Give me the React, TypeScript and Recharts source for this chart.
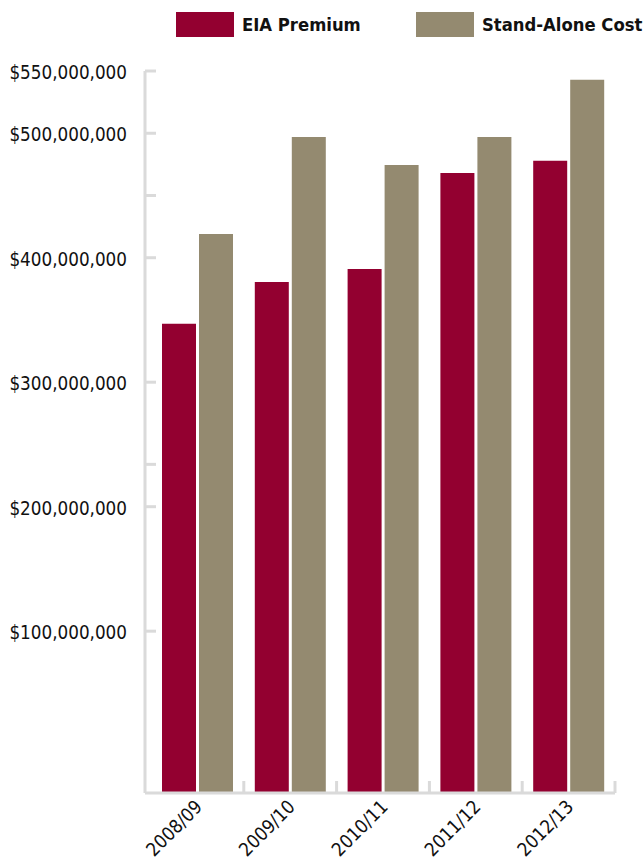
import React from 'react';
import { BarChart, Bar, XAxis, YAxis } from 'recharts';

const YEARS = ['2008/09', '2009/10', '2010/11', '2011/12', '2012/13'];
const EIA_PREMIUM = [347000000, 380500000, 391000000, 468000000, 478000000];
const STAND_ALONE = [419000000, 497000000, 474500000, 497000000, 543000000];

// labelled ticks plus the two bare tick marks the original axis has
const Y_TICKS = [550000000, 500000000, 450000000, 400000000, 300000000, 234000000, 200000000, 100000000];
const Y_LABELS = [550000000, 500000000, 400000000, 300000000, 200000000, 100000000];
const Y_MIN = -30000000;
const Y_MAX = 550000000;

const SERIES = [
  { key: 'eia', name: 'EIA Premium', color: '#930030' },
  { key: 'standAlone', name: 'Stand-Alone Cost', color: '#948a70' },
];

const data = YEARS.map((year, i) => ({ year, eia: EIA_PREMIUM[i], standAlone: STAND_ALONE[i] }));

const FONT = '"DejaVu Sans Condensed", "DejaVu Sans", sans-serif';
const GRID = '#dadada';
const BAND = 464 / YEARS.length;

const fmt = (v: number) => '$' + v.toLocaleString('en-US');

const YTick = (props: any) => {
  const { x, y, payload } = props;
  const labelled = Y_LABELS.includes(payload.value);
  return (
    <g>
      <line x1={x} x2={x + 11} y1={y} y2={y} stroke={GRID} strokeWidth={3} />
      {labelled && (
        <text x={x - 18} y={y} dy={8} textAnchor="end" fontSize={18.7} fill="#111" fontFamily={FONT}>
          {fmt(payload.value)}
        </text>
      )}
    </g>
  );
};

const XTick = (props: any) => {
  const { x, y, payload } = props;
  const bx = x + BAND / 2;
  return (
    <g>
      <line x1={bx} x2={bx} y1={y} y2={y - 12} stroke={GRID} strokeWidth={3} />
      <text
        x={x + 6}
        y={y + 15}
        textAnchor="end"
        fontSize={18.7}
        fill="#111"
        fontFamily={FONT}
        transform={`rotate(-45 ${x + 6} ${y + 15})`}
      >
        {payload.value}
      </text>
    </g>
  );
};

const LegendRow = () => (
  <div style={{ position: 'absolute', left: 0, top: 0, width: 643, height: 50, fontFamily: FONT }}>
    {SERIES.map((s, i) => (
      <React.Fragment key={s.key}>
        <div style={{ position: 'absolute', left: 176 + i * 240, top: 12, width: 58, height: 25, background: s.color }} />
        <div
          style={{
            position: 'absolute',
            left: 242 + i * 240,
            top: 13,
            fontSize: 18.3,
            fontWeight: 'bold',
            lineHeight: '24px',
            color: '#111',
            whiteSpace: 'nowrap',
          }}
        >
          {s.name}
        </div>
      </React.Fragment>
    ))}
  </div>
);

export default function App() {
  return (
    <div style={{ position: 'absolute', left: 0, top: 0, width: 643, height: 858, background: '#fff', overflow: 'hidden' }}>
      <LegendRow />
      <BarChart
        width={643}
        height={858}
        data={data}
        margin={{ top: 71, right: 28, left: 0, bottom: 0 }}
        barSize={34}
        barGap={3}
        style={{ position: 'absolute', left: 0, top: 0 }}
      >
        <XAxis
          dataKey="year"
          height={65}
          padding={{ left: 6, right: 0 }}
          tickSize={0}
          tickMargin={0}
          interval={0}
          axisLine={{ stroke: GRID, strokeWidth: 3 }}
          tick={<XTick />}
        />
        <YAxis
          type="number"
          width={145}
          domain={[Y_MIN, Y_MAX]}
          ticks={Y_TICKS}
          interval={0}
          tickSize={0}
          tickMargin={0}
          axisLine={{ stroke: GRID, strokeWidth: 3 }}
          tick={<YTick />}
        />
        {SERIES.map((s) => (
          <Bar
            key={s.key}
            dataKey={(d: any) => [Y_MIN, d[s.key]]}
            name={s.name}
            fill={s.color}
            isAnimationActive={false}
          />
        ))}
      </BarChart>
    </div>
  );
}
